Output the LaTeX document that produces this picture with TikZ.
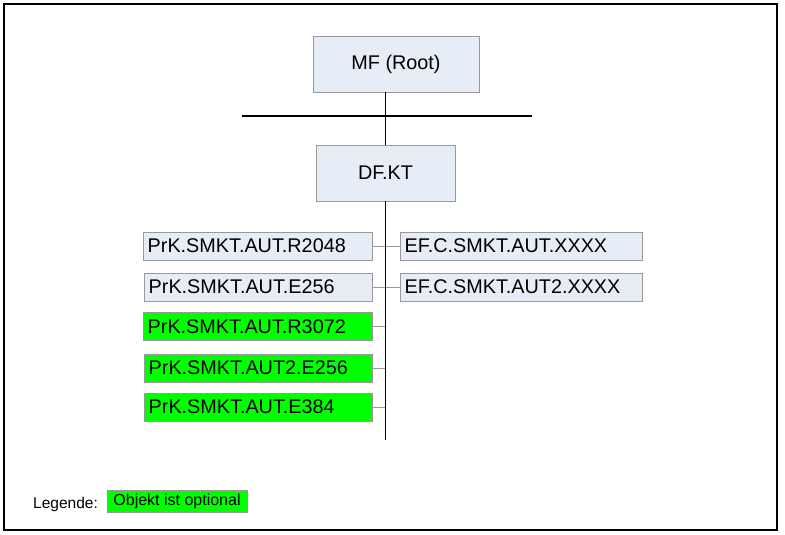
\documentclass[tikz,border=0pt]{standalone}
\usepackage{fontspec}
\setmainfont{Liberation Sans}
\usepackage{tikz}
\usetikzlibrary{positioning}
\definecolor{boxblue}{HTML}{E7EDF7}
\definecolor{boxline}{HTML}{999999}
\definecolor{optgreen}{HTML}{00FF00}

\begin{document}
\begin{tikzpicture}[x=1pt,y=-1pt,
  base/.style={draw=boxline,fill=boxblue,font=\fontsize{19.8}{19.8}\selectfont,inner sep=0pt},
  big/.style={base,minimum height=56},
  obj/.style={base,anchor=west,minimum height=28,inner xsep=4.5pt,align=left},
  opt/.style={obj,fill=optgreen},
  link/.style={draw=boxline,line width=1pt},
  bus/.style={line width=1.5pt}]
\useasboundingbox (0,0) rectangle (785,535);
\draw[line width=2.5pt] (4,4) rectangle (777,530);
\node[big,minimum width=166] (mf) at (396,64) {MF (Root)};
\node[big,minimum width=139] (df) at (385.5,173) {DF.KT};
\coordinate (busl) at (242,116);
\coordinate (busr) at (532,116);
\coordinate (trunkend) at (385.5,440);
\node[obj,text width=220] (r2048) at (143,246) {PrK.SMKT.AUT.R2048};
\node[obj,text width=219] (e256) at (144,287) {PrK.SMKT.AUT.E256};
\node[opt,text width=220] (r3072) at (143,326.5) {PrK.SMKT.AUT.R3072};
\node[opt,text width=219] (aut2e256) at (144,368) {PrK.SMKT.AUT2.E256};
\node[opt,text width=219] (e384) at (144,407) {PrK.SMKT.AUT.E384};
\node[obj,text width=233] (efaut) at (400,246) {EF.C.SMKT.AUT.XXXX};
\node[obj,text width=233] (efaut2) at (400,287) {EF.C.SMKT.AUT2.XXXX};
\draw[link] (r2048.east) -- (efaut.west);
\draw[link] (e256.east) -- (efaut2.west);
\draw[link] (r3072.east) -- (r3072.east -| trunkend);
\draw[link] (aut2e256.east) -- (aut2e256.east -| trunkend);
\draw[link] (e384.east) -- (e384.east -| trunkend);
\draw[bus] (busl) -- (busr);
\draw[bus] (df.north |- mf.south) -- (df.north);
\draw[bus] (df.south) -- (trunkend);
\node[anchor=west,font=\fontsize{15.5}{15.5}\selectfont,inner sep=0pt] (legend) at (33,504) {Legende:};
\node[base,fill=optgreen,font=\fontsize{16}{16}\selectfont,minimum width=140,minimum height=22] (legopt) at (177,501) {Objekt ist optional};
\end{tikzpicture}
\end{document}
